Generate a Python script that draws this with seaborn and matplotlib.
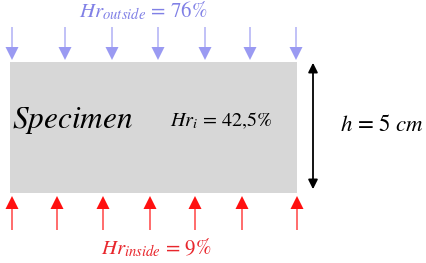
import matplotlib.pyplot as plt
import seaborn as sns

# arrow positions (pixel coords of the reference image)
top_arrow_x = [12, 65, 112, 158, 205, 250, 296]
bottom_arrow_x = [12, 57, 103, 150, 195, 242, 297]

label_outside = r'$Hr_{outside}$ = 76%'
label_inside = r'$Hr_{inside}$ = 9%'
label_specimen = r'$Specimen$'
label_initial = r'$Hr_i$ = 42,5%'
label_height = r'$h$ = 5 $cm$'

BLUE = '#9a9af2'
BLUE_TEXT = '#8080e6'
RED = '#ff1010'
RED_TEXT = '#e8262c'

sns.set_theme(style='white')
plt.rcParams['font.family'] = ['STIXGeneral', 'DejaVu Serif']
plt.rcParams['mathtext.fontset'] = 'stix'

fig = plt.figure(figsize=(4.26, 2.63), dpi=100)
ax = fig.add_axes([0, 0, 1, 1])
ax.set_xlim(0, 426)
ax.set_ylim(263, 0)
ax.axis('off')

# specimen block
ax.add_patch(plt.Rectangle((10, 62), 287, 131, facecolor='#d7d7d7', edgecolor='none'))

# outside humidity arrows (pointing down)
for x in top_arrow_x:
    ax.arrow(x, 27, 0, 33, width=1.2, head_width=13, head_length=13,
             length_includes_head=True, color=BLUE, lw=0)

# inside humidity arrows (pointing up)
for x in bottom_arrow_x:
    ax.arrow(x, 230, 0, -34, width=1.2, head_width=13, head_length=13,
             length_includes_head=True, color=RED, lw=0)

# height arrow
ax.annotate('', xy=(313, 60), xytext=(313, 192),
            arrowprops=dict(arrowstyle='<|-|>', color='black', lw=1.3, mutation_scale=14))

ax.text(143, 11, label_outside, color=BLUE_TEXT, fontsize=15, ha='center', va='center')
ax.text(156, 248, label_inside, color=RED_TEXT, fontsize=15, ha='center', va='center')
ax.text(73, 121, label_specimen, color='black', fontsize=22.5, ha='center', va='center')
ax.text(221, 121, label_initial, color='black', fontsize=14.5, ha='center', va='center')
ax.text(382, 125, label_height, color='black', fontsize=16.5, ha='center', va='center')

fig.savefig('out.png', dpi=100)
